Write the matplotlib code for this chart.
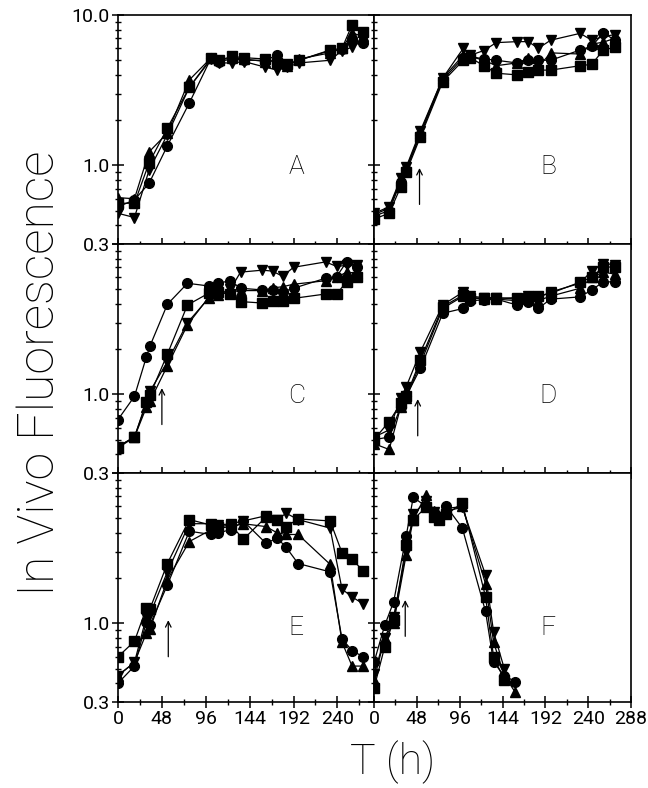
import numpy as np
import matplotlib
matplotlib.use("Agg")
import matplotlib.pyplot as plt
from matplotlib.ticker import FixedLocator, NullFormatter

plt.rcParams['font.family'] = ['Roboto', 'DejaVu Sans']

# ---- data (hours, in vivo fluorescence) ----
t_A = [0, 18, 34, 54, 78, 102, 110, 125, 138, 161, 174, 185, 198, 232, 245, 256, 268]
A_circle = [0.53, 0.59, 0.76, 1.35, 2.6, 5.2, 4.9, 5.1, 5.0, 5.0, 5.4, 4.6, 5.0, 5.8, 5.9, 6.8, 6.5]
A_square = [0.56, 0.56, 1.04, 1.77, 3.3, 5.2, 5.0, 5.3, 5.2, 5.1, 4.8, 4.7, 5.0, 5.85, 6.0, 8.6, 7.7]
A_up = [0.61, 0.60, 1.23, 1.64, 3.7, 5.2, 5.0, 5.2, 5.1, 4.9, 5.0, 4.6, 5.1, 5.6, 6.0, 7.6, 7.2]
A_down = [0.48, 0.45, 0.93, 1.6, 3.3, 5.1, 4.8, 4.8, 4.9, 4.5, 4.3, 4.5, 4.8, 5.0, 5.8, 6.1, 6.8]

t_B = [0, 17, 30, 36, 52, 77, 100, 108, 123, 137, 160, 173, 184, 198, 231, 244, 257, 270]
B_circle = [0.46, 0.50, 0.78, 0.93, 1.6, 3.7, 5.2, 5.3, 5.1, 5.0, 4.8, 5.0, 5.0, 5.0, 5.85, 6.2, 7.6, 6.8]
B_square = [0.44, 0.48, 0.72, 0.90, 1.55, 3.6, 5.0, 5.2, 4.6, 4.1, 4.0, 4.2, 4.3, 4.3, 4.6, 4.7, 5.85, 6.1]
B_up = [0.47, 0.52, 0.80, 0.95, 1.65, 3.8, 5.4, 5.3, 5.0, 4.6, 4.8, 5.15, 4.5, 5.6, 5.5, 6.4, 6.6, 7.0]
B_down = [0.48, 0.53, 0.82, 0.97, 1.7, 3.8, 6.0, 5.4, 5.8, 6.55, 6.65, 6.65, 6.0, 6.8, 7.55, 6.8, 7.2, 7.4]

t_C = [0, 18, 31, 35, 54, 76, 99, 109, 123, 134, 158, 169, 180, 192, 227, 239, 250, 261]
C_circle = [0.68, 0.97, 1.77, 2.1, 3.97, 5.48, 5.26, 5.48, 5.7, 5.08, 4.95, 4.95, 4.8, 5.08, 5.92, 6.06, 7.6, 7.06]
C_square = [0.44, 0.52, 0.89, 0.99, 1.85, 3.93, 4.7, 4.8, 4.65, 4.14, 4.05, 4.2, 4.2, 4.35, 4.65, 4.65, 5.6, 6.0]
C_up = [0.45, 0.52, 0.82, 0.9, 1.55, 2.9, 4.4, 4.6, 4.8, 4.9, 4.9, 5.1, 5.2, 5.4, 5.7, 6.0, 6.5, 6.4]
C_down = [0.45, 0.52, 0.87, 1.05, 1.65, 3.0, 4.35, 4.6, 5.0, 6.5, 6.7, 6.6, 6.1, 7.0, 7.6, 7.1, 7.2, 7.3]

t_D = [0, 17, 30, 36, 52, 77, 100, 108, 123, 137, 160, 173, 184, 198, 231, 244, 257, 270]
D_circle = [0.50, 0.52, 0.83, 0.97, 1.49, 3.46, 3.73, 4.2, 4.25, 4.3, 3.93, 4.1, 3.73, 4.3, 4.45, 4.95, 5.6, 5.6]
D_square = [0.50, 0.66, 0.87, 0.97, 1.69, 3.83, 4.58, 4.4, 4.35, 4.35, 4.4, 4.4, 4.5, 4.7, 5.58, 6.0, 7.06, 7.0]
D_up = [0.47, 0.43, 0.83, 0.95, 1.6, 3.73, 4.5, 4.4, 4.3, 4.3, 4.2, 4.3, 4.2, 4.5, 5.08, 6.0, 6.5, 6.3]
D_down = [0.52, 0.58, 0.95, 1.12, 1.92, 3.93, 4.8, 4.5, 4.4, 4.4, 4.3, 4.5, 4.4, 4.8, 5.48, 6.65, 7.4, 7.3]

t_E = [0, 18, 31, 35, 54, 78, 102, 109, 124, 137, 162, 174, 184, 197, 232, 245, 256, 268]
E_circle = [0.40, 0.52, 1.02, 0.98, 1.8, 4.1, 3.9, 4.0, 4.2, 4.8, 3.4, 3.7, 3.2, 2.5, 2.2, 0.79, 0.66, 0.60]
E_square = [0.60, 0.76, 1.26, 1.25, 2.5, 4.9, 4.5, 4.4, 4.5, 3.62, 5.1, 4.9, 4.4, 4.95, 4.8, 2.95, 2.67, 2.24]
E_up = [0.45, 0.55, 0.86, 0.92, 1.95, 3.5, 4.2, 4.3, 4.4, 4.6, 4.4, 4.0, 3.9, 3.9, 2.47, 0.75, 0.52, 0.52]
E_down = [0.45, 0.55, 1.1, 1.15, 2.2, 4.6, 4.6, 4.5, 4.6, 4.8, 5.2, 4.9, 5.4, 4.9, 4.3, 1.69, 1.5, 1.35]

t_F = [0, 12, 22, 36, 44, 58, 67, 73, 81, 99, 125, 134, 146, 158]
F_circle = [0.55, 0.97, 1.39, 3.8, 6.9, 6.0, 5.5, 5.1, 6.0, 4.3, 1.2, 0.55, 0.45, 0.41]
F_square = [0.37, 0.70, 1.05, 3.3, 4.9, 5.9, 5.1, 4.9, 5.3, 6.3, 1.5, 0.60, 0.42, np.nan]
F_up = [0.42, 0.80, 1.0, 2.85, 4.9, 7.1, 5.6, 5.2, 5.8, 6.0, 1.83, 0.75, 0.45, 0.35]
F_down = [0.46, 0.80, 1.1, 3.0, 5.3, 6.5, 5.5, 5.1, 5.6, 5.9, 2.1, 0.88, 0.50, np.nan]

panel_letters = ['A', 'B', 'C', 'D', 'E', 'F']
# arrow (time, bottom, top) for panels B..F
arrows = {'B': (51, 0.55, 0.96), 'C': (48, 0.63, 1.10), 'D': (49, 0.53, 0.93),
          'E': (55, 0.60, 1.05), 'F': (35, 0.82, 1.43)}

panels = {
    'A': (t_A, A_circle, A_square, A_up, A_down),
    'B': (t_B, B_circle, B_square, B_up, B_down),
    'C': (t_C, C_circle, C_square, C_up, C_down),
    'D': (t_D, D_circle, D_square, D_up, D_down),
    'E': (t_E, E_circle, E_square, E_up, E_down),
    'F': (t_F, F_circle, F_square, F_up, F_down),
}

fig = plt.figure(figsize=(6.48, 7.88), dpi=100)
W, H = 648, 788
col_x = [(118, 256), (374, 257)]
row_y = [(15, 244), (244, 473), (473, 702)]

yminor = [0.4, 0.5, 0.6, 0.7, 0.8, 0.9, 2, 3, 4, 5, 6, 7, 8, 9]

for i, letter in enumerate(panel_letters):
    r, c = divmod(i, 2)
    x0, w = col_x[c]
    ytop, ybot = row_y[r]
    ax = fig.add_axes([x0 / W, 1 - ybot / H, w / W, (ybot - ytop) / H])
    t, circ, sq, up, dn = panels[letter]
    for vals, m in [(circ, 'o'), (sq, 's'), (up, '^'), (dn, 'v')]:
        ax.plot(t, vals, color='black', lw=0.9, marker=m, ms=7,
                mfc='black', mec='black', zorder=3)
    ax.set_yscale('log')
    ax.set_ylim(0.3, 10)
    ax.set_xlim(0, 280 if c == 0 else 288)

    ax.yaxis.set_major_locator(FixedLocator([0.3, 1.0, 10.0]))
    ax.yaxis.set_minor_locator(FixedLocator(yminor))
    ax.yaxis.set_minor_formatter(NullFormatter())
    if c == 0:
        ax.set_yticklabels(['0.3', '1.0', '10.0' if r == 0 else ''])
    else:
        ax.set_yticklabels(['', '', ''])
    ax.set_xticks([0, 48, 96, 144, 192, 240] + ([288] if c == 1 else []))
    ax.set_xticks([24, 72, 120, 168, 216, 264], minor=True)
    if r < 2:
        ax.set_xticklabels([])
    ax.tick_params(which='major', direction='inout', length=8, width=1.1,
                   labelsize=14, pad=2, top=False, right=False)
    ax.tick_params(which='minor', direction='inout', length=4.5, width=1.0,
                   top=False, right=False)
    for sp in ax.spines.values():
        sp.set_linewidth(1.2)
    ax.text(195, 0.98 if r < 2 else 0.93, letter, fontsize=19,
            fontweight='light', ha='center', va='center')
    if letter in arrows:
        xa, yb, yt = arrows[letter]
        ax.annotate('', xy=(xa, yt), xytext=(xa, yb),
                    arrowprops=dict(arrowstyle='->', lw=0.9, color='black',
                                    shrinkA=0, shrinkB=0))

fig.text(0.062, 1 - 373 / H, 'In Vivo Fluorescence', rotation=90, fontsize=36,
         fontweight='light', ha='center', va='center')
fig.text(393 / W, 1 - 762 / H, 'T (h)', fontsize=31, fontweight='light',
         ha='center', va='center')

fig.savefig('out.png', dpi=100)
